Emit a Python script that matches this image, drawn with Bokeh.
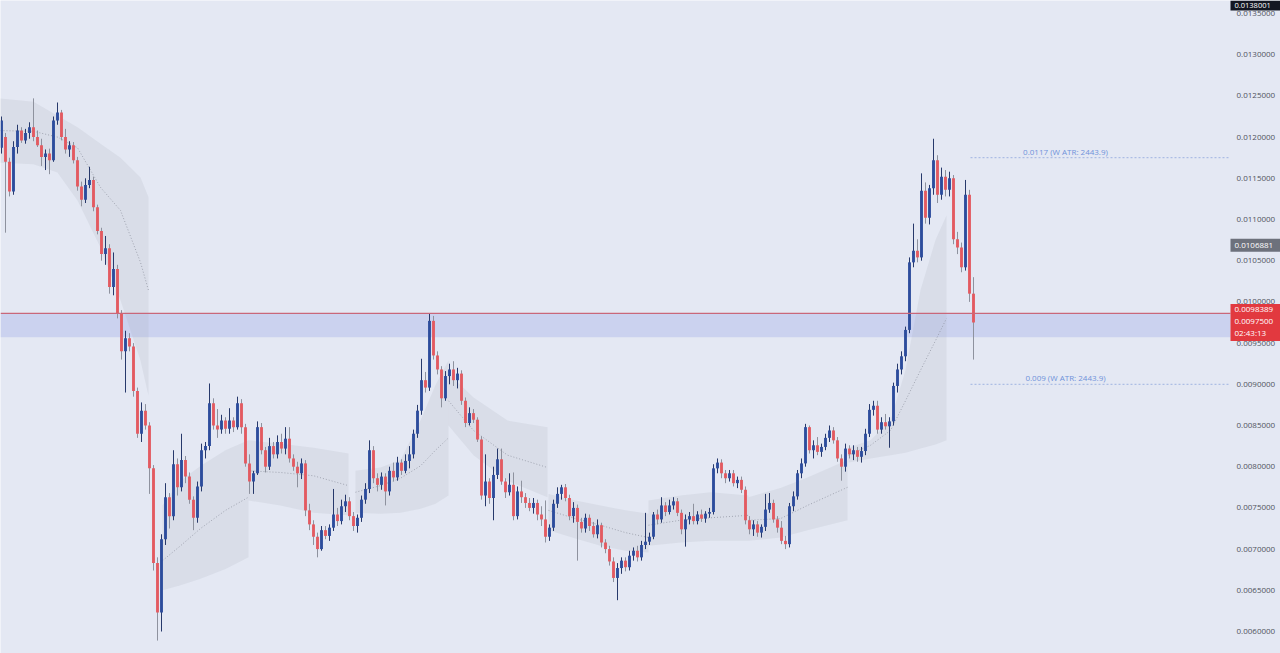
from bokeh.plotting import figure
from bokeh.models import BoxAnnotation, ColumnDataSource
from bokeh.embed import file_html
from bokeh.resources import INLINE
from bokeh.core.properties import value

# ---------------- data (prices in units of 1e-4) ----------------
UNIT = 1e-4

opens = [118.7, 120.0, 117.0, 113.4, 118.8, 120.8, 119.6, 120.5, 121.2, 120.0,
         119.0, 117.6, 118.0, 117.2, 122.0, 123.0, 120.0, 118.5, 119.0, 117.2,
         114.0, 112.4, 114.2, 114.8, 111.5, 108.6, 105.8, 106.5, 101.8, 104.0,
         98.6, 94.0, 95.6, 94.6, 89.2, 84.0, 86.8, 85.0, 79.8, 68.3,
         62.3, 71.2, 76.3, 74.0, 80.3, 77.5, 80.8, 78.8, 76.0, 73.8,
         77.6, 82.0, 82.5, 87.7, 85.0, 84.5, 85.6, 84.6, 85.6, 84.8,
         87.7, 84.8, 80.4, 78.2, 79.2, 84.8, 82.0, 80.0, 82.5, 81.5,
         83.0, 82.2, 83.4, 81.0, 80.0, 79.2, 80.4, 74.7, 73.0, 71.5,
         70.0, 72.3, 71.6, 72.6, 74.2, 73.4, 75.2, 75.8, 74.0, 72.8,
         73.8, 76.0, 77.3, 82.0, 78.6, 77.8, 78.8, 77.0, 79.5, 78.7,
         80.5, 79.5, 80.7, 81.5, 84.0, 86.8, 90.5, 89.6, 97.7, 93.5,
         91.8, 88.3, 91.0, 91.8, 90.5, 91.3, 88.0, 85.3, 86.5, 85.7,
         83.3, 76.5, 78.2, 76.2, 79.0, 80.9, 78.2, 76.9, 77.8, 74.0,
         77.0, 76.3, 75.6, 75.0, 75.6, 74.2, 73.6, 71.5, 72.6, 75.5,
         76.7, 77.5, 76.2, 74.0, 75.0, 73.3, 72.5, 73.8, 72.8, 71.8,
         72.9, 70.8, 70.0, 68.5, 66.5, 67.7, 68.6, 67.8, 69.2, 69.8,
         69.0, 70.5, 70.9, 71.5, 74.2, 73.6, 75.3, 74.5, 75.3, 75.8,
         74.4, 72.4, 73.6, 74.0, 73.4, 74.2, 73.7, 74.3, 74.5, 79.8,
         80.5, 79.2, 78.6, 79.2, 78.0, 78.4, 77.2, 73.5, 72.4, 73.0,
         72.0, 72.7, 74.8, 75.6, 73.6, 72.6, 71.0, 70.6, 75.2, 76.4,
         79.2, 80.4, 84.8, 82.0, 82.6, 81.8, 82.4, 83.5, 84.4, 83.2,
         81.0, 80.0, 82.2, 81.5, 82.0, 81.2, 81.9, 84.0, 86.9, 87.4,
         84.5, 85.4, 84.9, 85.5, 89.8, 91.8, 93.4, 96.6, 104.8, 106.2,
         105.4, 113.5, 110.2, 113.8, 117.2, 113.0, 115.2, 113.6, 115.0, 107.6,
         106.6, 104.2, 113.0, 101.0]

highs = [122.5, 120.5, 117.5, 119.5, 121.5, 121.2, 121.0, 121.8, 124.7, 120.8,
         119.8, 118.5, 118.6, 122.5, 124.2, 123.3, 121.0, 119.5, 119.4, 117.6,
         114.6, 115.0, 116.4, 115.2, 111.8, 109.0, 108.0, 107.0, 106.0, 104.5,
         99.0, 96.5, 96.2, 95.0, 89.6, 87.8, 87.6, 85.4, 80.2, 69.0,
         71.8, 78.0, 76.8, 82.0, 81.0, 84.0, 81.3, 79.3, 76.4, 78.2,
         82.8, 83.0, 90.1, 88.3, 87.0, 86.3, 86.0, 87.1, 86.0, 88.5,
         88.2, 85.2, 81.5, 79.5, 85.5, 85.3, 82.4, 83.5, 83.0, 83.8,
         84.0, 84.8, 84.8, 81.5, 80.6, 81.0, 80.8, 75.5, 73.5, 72.0,
         72.8, 72.8, 73.0, 77.3, 75.0, 76.0, 76.6, 76.3, 74.5, 74.2,
         76.5, 78.0, 83.2, 82.5, 79.2, 79.3, 79.2, 80.0, 80.5, 81.2,
         80.9, 81.5, 82.5, 84.5, 87.5, 93.1, 91.5, 98.6, 98.3, 94.0,
         92.2, 91.6, 92.5, 92.8, 92.0, 91.7, 88.4, 87.2, 87.0, 86.0,
         83.7, 81.5, 78.6, 80.0, 82.2, 82.2, 78.6, 79.2, 79.3, 77.6,
         78.3, 76.8, 76.2, 76.2, 76.0, 75.2, 75.9, 73.0, 76.0, 77.5,
         77.8, 77.9, 76.6, 75.7, 75.4, 73.8, 74.3, 74.2, 73.3, 73.6,
         73.2, 71.2, 70.4, 69.0, 68.3, 69.0, 69.0, 69.8, 70.2, 70.4,
         71.0, 74.4, 72.0, 74.5, 74.8, 76.3, 75.7, 76.0, 76.3, 76.2,
         74.8, 74.2, 74.5, 75.5, 74.6, 74.8, 74.6, 75.0, 80.3, 81.0,
         80.9, 79.6, 79.6, 79.6, 78.8, 78.8, 77.6, 74.0, 73.5, 73.4,
         73.0, 76.7, 76.8, 76.0, 74.0, 73.4, 71.6, 75.6, 77.0, 79.6,
         81.0, 85.2, 85.0, 83.2, 83.6, 82.8, 84.0, 85.0, 84.8, 83.6,
         81.5, 82.8, 82.6, 82.6, 82.4, 82.4, 84.6, 87.6, 88.0, 88.0,
         86.0, 86.4, 86.0, 90.2, 92.5, 94.0, 97.0, 105.4, 109.5, 107.6,
         115.6, 114.5, 114.2, 119.8, 117.8, 116.3, 116.0, 115.8, 115.4, 108.5,
         107.2, 114.8, 113.6, 103.0]

lows = [118.0, 108.4, 112.8, 113.0, 118.0, 119.3, 119.2, 119.8, 119.5, 118.8,
        116.5, 116.0, 115.5, 117.0, 121.5, 119.6, 118.0, 117.6, 116.8, 113.5,
        111.6, 112.0, 113.8, 111.0, 108.2, 105.0, 104.5, 101.0, 100.8, 98.0,
        93.0, 89.0, 94.0, 88.5, 83.5, 83.0, 84.5, 76.7, 67.4, 58.9,
        60.0, 70.5, 72.5, 73.5, 76.5, 77.0, 78.0, 75.5, 72.3, 73.2,
        77.0, 81.0, 82.0, 84.5, 83.5, 84.0, 84.0, 84.0, 84.2, 84.5,
        84.0, 80.0, 76.7, 76.7, 79.0, 81.5, 79.3, 79.6, 81.0, 81.0,
        81.6, 81.5, 80.5, 79.5, 77.5, 78.5, 74.0, 72.3, 70.5, 69.0,
        69.8, 71.2, 71.0, 72.2, 72.8, 73.0, 74.5, 73.5, 72.2, 72.0,
        73.3, 75.5, 76.8, 78.0, 77.0, 77.2, 75.3, 76.5, 78.2, 78.3,
        79.0, 79.2, 79.8, 81.0, 83.5, 86.3, 89.0, 89.2, 93.0, 91.2,
        87.2, 88.0, 90.0, 89.8, 89.5, 87.5, 84.8, 85.0, 85.3, 83.0,
        76.0, 75.2, 75.5, 73.5, 78.5, 77.8, 76.2, 76.5, 73.5, 73.6,
        75.6, 75.0, 74.6, 74.3, 73.5, 72.8, 70.8, 71.0, 72.2, 75.0,
        76.0, 75.8, 73.5, 73.2, 68.6, 72.0, 72.0, 72.2, 71.4, 71.3,
        70.2, 69.5, 68.0, 66.0, 63.8, 67.0, 67.3, 67.4, 68.6, 68.5,
        68.6, 70.0, 70.5, 71.2, 73.0, 73.2, 74.0, 74.2, 74.8, 74.0,
        71.8, 70.3, 73.0, 73.0, 73.0, 73.3, 73.2, 73.8, 74.2, 79.2,
        78.6, 78.0, 78.2, 77.6, 77.4, 76.8, 73.0, 71.8, 71.6, 71.5,
        71.4, 72.2, 74.4, 73.2, 72.0, 70.6, 70.0, 70.2, 74.6, 76.0,
        78.6, 80.0, 81.6, 81.0, 81.4, 81.2, 82.0, 83.0, 82.8, 80.6,
        78.3, 79.4, 81.0, 80.8, 80.6, 80.5, 81.4, 83.6, 86.2, 84.0,
        84.0, 84.5, 82.3, 85.0, 89.0, 91.2, 92.8, 96.2, 104.2, 104.8,
        105.0, 109.5, 109.4, 113.0, 112.0, 112.4, 112.8, 112.8, 107.0, 105.8,
        103.6, 103.8, 100.0, 93.0]

closes = [122.0, 117.0, 113.4, 118.8, 120.8, 119.6, 120.5, 121.2, 120.0, 119.0,
          117.6, 118.0, 117.2, 122.0, 123.0, 120.0, 118.5, 119.0, 117.2, 114.0,
          112.4, 114.2, 114.8, 111.5, 108.6, 105.8, 106.5, 101.8, 104.0, 98.6,
          94.0, 95.6, 94.6, 89.2, 84.0, 86.8, 85.0, 79.8, 68.3, 62.3,
          71.2, 76.3, 74.0, 80.3, 77.5, 80.8, 78.8, 76.0, 73.8, 77.6,
          82.0, 82.5, 87.7, 85.0, 84.5, 85.6, 84.6, 85.6, 84.8, 87.7,
          84.8, 80.4, 78.2, 79.2, 84.8, 82.0, 80.0, 82.5, 81.5, 83.0,
          82.2, 83.4, 81.0, 80.0, 79.2, 80.4, 74.7, 73.0, 71.5, 70.0,
          72.3, 71.6, 72.6, 74.2, 73.4, 75.2, 75.8, 74.0, 72.8, 73.8,
          76.0, 77.3, 82.0, 78.6, 77.8, 78.8, 77.0, 79.5, 78.7, 80.5,
          79.5, 80.7, 81.5, 84.0, 86.8, 90.5, 89.6, 97.7, 93.5, 91.8,
          88.3, 91.0, 91.8, 90.5, 91.3, 88.0, 85.3, 86.5, 85.7, 83.3,
          76.5, 78.2, 76.2, 79.0, 80.9, 78.2, 76.9, 77.8, 74.0, 77.0,
          76.3, 75.6, 75.0, 75.6, 74.2, 73.6, 71.5, 72.6, 75.5, 76.7,
          77.5, 76.2, 74.0, 75.0, 73.3, 72.5, 73.8, 72.8, 71.8, 72.9,
          70.8, 70.0, 68.5, 66.5, 67.7, 68.6, 67.8, 69.2, 69.8, 69.0,
          70.5, 70.9, 71.5, 74.2, 73.6, 75.3, 74.5, 75.3, 75.8, 74.4,
          72.4, 73.6, 74.0, 73.4, 74.2, 73.7, 74.3, 74.5, 79.8, 80.5,
          79.2, 78.6, 79.2, 78.0, 78.4, 77.2, 73.5, 72.4, 73.0, 72.0,
          72.7, 74.8, 75.6, 73.6, 72.6, 71.0, 70.6, 75.2, 76.4, 79.2,
          80.4, 84.8, 82.0, 82.6, 81.8, 82.4, 83.5, 84.4, 83.2, 81.0,
          80.0, 82.2, 81.5, 82.0, 81.2, 81.9, 84.0, 86.9, 87.4, 84.5,
          85.4, 84.9, 85.5, 89.8, 91.8, 93.4, 96.6, 104.8, 106.2, 105.4,
          113.5, 110.2, 113.8, 117.2, 113.0, 115.2, 113.6, 115.0, 107.6, 106.6,
          104.2, 113.0, 101.0, 97.5]

# shaded anchored bands: candle-index positions with upper / middle / lower values
band_x = [[-1, 8, 14, 19, 24.75, 29.75, 34.75, 36.75],
          [40.25, 44.75, 49.75, 56, 61.75],
          [61.75, 69.75, 78, 86.75],
          [88.5, 94.75, 99.75, 104.75, 108.5, 111.75],
          [111.75, 118, 126.5, 136.5],
          [136.75, 143.5, 149.75, 156, 161.75],
          [161.75, 169.75, 177.25, 186.75],
          [186.75, 194.75, 201.5, 211.5],
          [211.75, 217.25, 222.25, 226, 229.75, 233.5, 236.25]]
band_top = [[124.7, 124.3, 122.6, 121.2, 119.2, 117.5, 115.1, 112.7],
            [75.3, 78.3, 80.1, 82.0, 83.2],
            [83.2, 82.8, 82.3, 81.6],
            [79.5, 79.9, 80.8, 85.6, 89.9, 92.9],
            [91.3, 88.4, 85.6, 84.8],
            [76.7, 75.9, 75.3, 74.7, 74.3],
            [75.9, 76.5, 76.9, 76.5],
            [76.3, 77.4, 78.7, 80.8],
            [82.3, 83.2, 85.6, 91.7, 101.4, 107.5, 110.5]]
band_mid = [[120.8, 120.7, 120.0, 118.7, 113.9, 111.1, 104.8, 101.4],
            [68.6, 70.4, 72.5, 74.7, 76.3],
            [79.5, 79.3, 78.9, 77.7],
            [76.9, 77.7, 78.6, 80.1, 82.0, 83.5],
            [88.0, 84.4, 81.4, 79.9],
            [74.7, 73.7, 72.9, 72.0, 71.4],
            [72.9, 73.5, 73.8, 74.1],
            [73.5, 73.7, 75.3, 77.5],
            [81.4, 82.6, 84.4, 88.0, 91.7, 95.3, 98.0]]
band_bot = [[116.9, 116.7, 115.7, 112.3, 106.6, 100.2, 92.9, 88.6],
            [65.0, 65.6, 66.4, 67.6, 69.0],
            [75.9, 75.3, 74.4, 74.1],
            [74.4, 74.3, 74.4, 74.9, 75.5, 76.5],
            [85.0, 81.4, 78.3, 76.3],
            [72.3, 71.3, 70.4, 69.8, 69.6],
            [70.4, 70.8, 71.0, 71.0],
            [71.0, 71.4, 72.3, 73.5],
            [80.5, 81.0, 81.4, 81.7, 82.2, 82.7, 83.2]]

zone_top = 98.6
zone_bottom = 95.7
atr_levels = [117.5, 90.0]
atr_texts = ["0.0117 (W ATR: 2443.9)", "0.009 (W ATR: 2443.9)"]
atr_start = 242.25
atr_text_x = 266

tick_values = [0.0060, 0.0065, 0.0070, 0.0075, 0.0080, 0.0085, 0.0090, 0.0095,
               0.0100, 0.0105, 0.0110, 0.0115, 0.0120, 0.0125, 0.0130, 0.0135]
top_tag_price = 0.0138001
marker_price = 0.0106881
upper_price = 0.0098389
last_price = 0.0097500
countdown = "02:43:13"

# ---------------- layout / styling ----------------
BG = "#e4e8f3"
UP = "#2c4c9c"
DOWN = "#e35a60"
UP_WICK = "#27396b"
DOWN_WICK = "#8e929e"
FONT = "Open Sans"

W, H = 1280, 653
PX = 4.0                     # pixels per candle
X0 = -0.25                   # left edge (candle-index units)
X1 = X0 + W / PX
PANE_RIGHT = X0 + 1230 / PX  # right edge of the price pane (scale area begins)
LABEL_X = X0 + 1236 / PX     # price scale text start
TAG_X = X0 + 1255 / PX       # centre of price tags
Y_PER_PX = 0.001 / 82.4
Y1 = 0.0135 + 13 * Y_PER_PX
Y0 = Y1 - H * Y_PER_PX
TOP_TAG_Y = Y1 - 5 * Y_PER_PX   # pinned tag for an off-screen price

p = figure(width=W, height=H, output_backend="svg", toolbar_location=None,
           x_range=(X0, X1), y_range=(Y0, Y1),
           x_axis_location=None, y_axis_location=None,
           min_border=0, background_fill_color=BG, border_fill_color=BG,
           outline_line_color=None)
p.xgrid.visible = False
p.ygrid.visible = False

# zone box
p.add_layout(BoxAnnotation(left=X0, right=PANE_RIGHT,
                           bottom=zone_bottom * UNIT, top=zone_top * UNIT,
                           fill_color="#cbd2ef", fill_alpha=1.0, line_color=None,
                           level="underlay"))

# bands
for bx, bt, bm, bb in zip(band_x, band_top, band_mid, band_bot):
    xs = list(bx) + list(reversed(bx))
    ys = [v * UNIT for v in bt] + [v * UNIT for v in reversed(bb)]
    p.patch(xs, ys, fill_color="#a7abb9", fill_alpha=0.18, line_color=None)
    p.line(bx, [v * UNIT for v in bm], line_color="#8a8e9a", line_width=0.8,
           line_dash="1 2", line_alpha=0.9)

# candles
n = len(closes)
idx = list(range(n))
is_up = [c >= o for o, c in zip(opens, closes)]
src = ColumnDataSource(dict(
    x=idx,
    high=[h * UNIT for h in highs],
    low=[l * UNIT for l in lows],
    top=[max(o, c) * UNIT for o, c in zip(opens, closes)],
    bottom=[min(o, c) * UNIT for o, c in zip(opens, closes)],
    body=[UP if u else DOWN for u in is_up],
    wick=[UP_WICK if u else DOWN_WICK for u in is_up],
))
p.segment(x0="x", y0="low", x1="x", y1="high", line_color="wick", line_width=1, source=src)
p.vbar(x="x", top="top", bottom="bottom", width=0.72, fill_color="body",
       line_color=None, source=src)

# red price line
p.segment(x0=[X0], y0=[zone_top * UNIT], x1=[PANE_RIGHT], y1=[zone_top * UNIT],
          line_color="#c9677a", line_width=1.2)

# ATR levels
for lv, txt in zip(atr_levels, atr_texts):
    p.segment(x0=[atr_start], y0=[lv * UNIT], x1=[PANE_RIGHT], y1=[lv * UNIT],
              line_color="#9fb3e0", line_width=1, line_dash="2 2")
    p.text(x=[atr_text_x], y=[lv * UNIT], text=[txt], text_align="center",
           text_baseline="bottom", y_offset=-1,
           text_font=value(FONT), text_font_size=value("8px"),
           text_color="#6f92da")

# price scale labels
p.text(x=[LABEL_X] * len(tick_values), y=tick_values,
       text=[f"{t:.7f}" for t in tick_values],
       text_align="left", text_baseline="middle",
       text_font=value(FONT), text_font_size=value("8px"), text_color="#50535e")

# price tags
p.rect(x=[TAG_X], y=[TOP_TAG_Y], width=50, height=10, width_units="screen",
       height_units="screen", fill_color="#131722", line_color=None)
p.text(x=[LABEL_X - 0.5], y=[TOP_TAG_Y], text=[f"{top_tag_price:.7f}"],
       text_align="left", text_baseline="middle",
       text_font=value(FONT), text_font_size=value("7.5px"), text_color="white")

p.rect(x=[TAG_X], y=[marker_price], width=50, height=13, width_units="screen",
       height_units="screen", fill_color="#6d717c", line_color=None)
p.text(x=[LABEL_X - 0.5], y=[marker_price], text=[f"{marker_price:.7f}"],
       text_align="left", text_baseline="middle",
       text_font=value(FONT), text_font_size=value("8px"), text_color="white")

p.rect(x=[TAG_X], y=[last_price], width=50, height=37, width_units="screen",
       height_units="screen", fill_color="#e2393f", line_color=None)
p.text(x=[LABEL_X - 0.5] * 3, y=[last_price] * 3,
       text=[f"{upper_price:.7f}", f"{last_price:.7f}", countdown],
       y_offset=[-13, -1, 10],
       text_align="left", text_baseline="middle",
       text_font=value(FONT), text_font_size=value("8px"), text_color="white")

open("out.html", "w").write(file_html(p, INLINE))
